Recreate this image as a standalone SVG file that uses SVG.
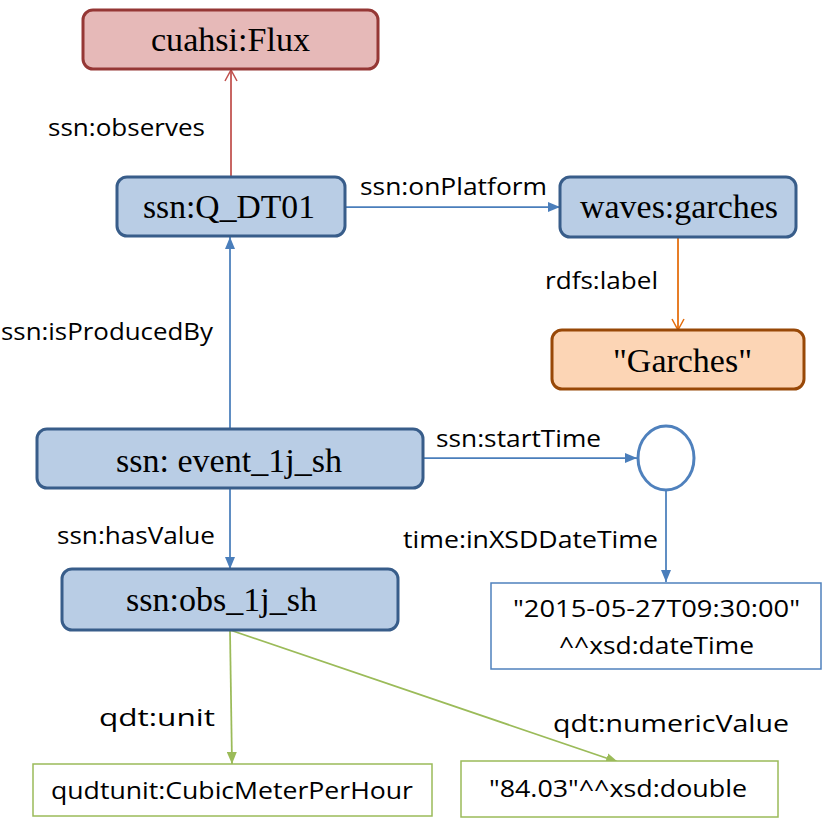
<svg xmlns="http://www.w3.org/2000/svg" width="827" height="822" viewBox="0 0 827 822">
<style>
.n{font-family:"Liberation Serif","Times New Roman",serif;font-size:33px;fill:#000}
.l{font-family:"Open Sans","Liberation Sans",sans-serif;font-size:24px;fill:#000}
.blue{fill:#b9cde5;stroke:#385d8a;stroke-width:3}
.red{fill:#e6b9b8;stroke:#953735;stroke-width:3}
.org{fill:#fcd5b5;stroke:#984807;stroke-width:3}
.lit{fill:#fff;stroke:#4f81bd;stroke-width:1.5}
.glit{fill:#fff;stroke:#9bbb59;stroke-width:1.5}
.cb{stroke:#4a7ebb;stroke-width:1.75;fill:none}
.cg{stroke:#9bbb59;stroke-width:1.75;fill:none}
.cr{stroke:#c0504d;stroke-width:1.75;fill:none}
.co{stroke:#e46c0a;stroke-width:1.75;fill:none}
</style>
<defs>
<marker id="ab" viewBox="0 0 12 10" refX="12" refY="5" markerWidth="12" markerHeight="10" orient="auto" markerUnits="userSpaceOnUse"><path d="M0,0 L12,5 L0,10 z" fill="#4a7ebb"/></marker>
<marker id="ag" viewBox="0 0 12 10" refX="12" refY="5" markerWidth="12" markerHeight="10" orient="auto" markerUnits="userSpaceOnUse"><path d="M0,0 L12,5 L0,10 z" fill="#9bbb59"/></marker>
<marker id="ar" viewBox="0 0 13 14" refX="12" refY="7" markerWidth="13" markerHeight="14" orient="auto" markerUnits="userSpaceOnUse"><path d="M1,1 L12,7 L1,13" fill="none" stroke="#c0504d" stroke-width="1.5"/></marker>
<marker id="ao" viewBox="0 0 13 14" refX="12" refY="7" markerWidth="13" markerHeight="14" orient="auto" markerUnits="userSpaceOnUse"><path d="M1,1 L12,7 L1,13" fill="none" stroke="#e46c0a" stroke-width="1.5"/></marker>
</defs>
<rect width="827" height="822" fill="#fff"/>
<g id="connectors">
<line class="cr" x1="231" y1="177" x2="231" y2="70" marker-end="url(#ar)"/>
<line class="cb" x1="346" y1="207" x2="560" y2="207" marker-end="url(#ab)"/>
<line class="co" x1="678" y1="237" x2="678" y2="330" marker-end="url(#ao)"/>
<line class="cb" x1="230" y1="428" x2="230" y2="237" marker-end="url(#ab)"/>
<line class="cb" x1="423" y1="458" x2="637" y2="458" marker-end="url(#ab)"/>
<line class="cb" x1="666" y1="491" x2="666" y2="582" marker-end="url(#ab)"/>
<line class="cb" x1="230" y1="489" x2="230" y2="569" marker-end="url(#ab)"/>
<line class="cg" x1="230" y1="630" x2="232" y2="764" marker-end="url(#ag)"/>
<line class="cg" x1="230" y1="630" x2="618" y2="762" marker-end="url(#ag)"/>
<text class="l" x="48" y="136" textLength="157" lengthAdjust="spacingAndGlyphs">ssn:observes</text>
<text class="l" x="360" y="195" textLength="187" lengthAdjust="spacingAndGlyphs">ssn:onPlatform</text>
<text class="l" x="545" y="289" textLength="113" lengthAdjust="spacingAndGlyphs">rdfs:label</text>
<text class="l" x="1" y="340" textLength="212" lengthAdjust="spacingAndGlyphs">ssn:isProducedBy</text>
<text class="l" x="436" y="447" textLength="165" lengthAdjust="spacingAndGlyphs">ssn:startTime</text>
<text class="l" x="403" y="548" textLength="255" lengthAdjust="spacingAndGlyphs">time:inXSDDateTime</text>
<text class="l" x="57" y="544" textLength="158" lengthAdjust="spacingAndGlyphs">ssn:hasValue</text>
<text class="l" x="99" y="726" textLength="116" lengthAdjust="spacingAndGlyphs">qdt:unit</text>
<text class="l" x="553" y="732" textLength="236" lengthAdjust="spacingAndGlyphs">qdt:numericValue</text>
</g>
<g id="flux">
<rect class="red" x="83" y="10" width="295" height="59" rx="10"/>
<text class="n" x="151" y="51" textLength="159" lengthAdjust="spacingAndGlyphs">cuahsi:Flux</text>
</g>
<g id="qdt01">
<rect class="blue" x="117" y="177" width="228" height="59" rx="10"/>
<text class="n" x="143" y="218" textLength="172" lengthAdjust="spacingAndGlyphs">ssn:Q_DT01</text>
</g>
<g id="garches">
<rect class="blue" x="560" y="177" width="236" height="60" rx="10"/>
<text class="n" x="580" y="218" textLength="198" lengthAdjust="spacingAndGlyphs">waves:garches</text>
</g>
<g id="garchesLabel">
<rect class="org" x="552" y="330" width="252" height="59" rx="10"/>
<text class="n" x="613" y="372" textLength="139" lengthAdjust="spacingAndGlyphs">"Garches"</text>
</g>
<g id="event">
<rect class="blue" x="37" y="429" width="386" height="59" rx="10"/>
<text class="n" x="116" y="472" textLength="226" lengthAdjust="spacingAndGlyphs">ssn: event_1j_sh</text>
</g>
<g id="instant">
<ellipse cx="666" cy="458" rx="28" ry="32" fill="#fff" stroke="#4f81bd" stroke-width="3"/>
</g>
<g id="dateTime">
<rect class="lit" x="491" y="583" width="330" height="86"/>
<text class="l" x="513" y="617" textLength="287" lengthAdjust="spacingAndGlyphs">"2015-05-27T09:30:00"</text>
<text class="l" x="559" y="654" textLength="195" lengthAdjust="spacingAndGlyphs">^^xsd:dateTime</text>
</g>
<g id="obs">
<rect class="blue" x="62" y="569" width="336" height="61" rx="10"/>
<text class="n" x="126" y="611" textLength="191" lengthAdjust="spacingAndGlyphs">ssn:obs_1j_sh</text>
</g>
<g id="unit">
<rect class="glit" x="33" y="764" width="399" height="52"/>
<text class="l" x="51" y="799" textLength="362" lengthAdjust="spacingAndGlyphs">qudtunit:CubicMeterPerHour</text>
</g>
<g id="value">
<rect class="glit" x="461" y="761" width="317" height="56"/>
<text class="l" x="489" y="797" textLength="258" lengthAdjust="spacingAndGlyphs">"84.03"^^xsd:double</text>
</g>
</svg>
